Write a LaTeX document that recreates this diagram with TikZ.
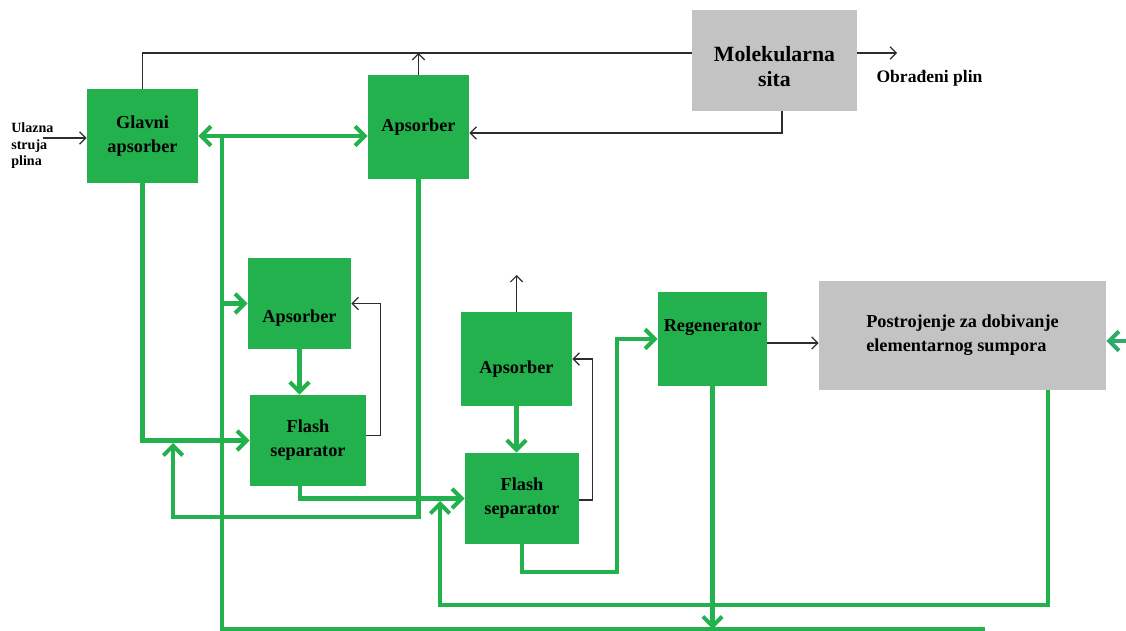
\documentclass[tikz,border=0pt]{standalone}
\usepackage{fontspec}
\setmainfont{Liberation Serif}
\usepackage{xcolor}
\definecolor{pgreen}{RGB}{34,177,76}
\definecolor{pgreen0}{RGB}{46,170,110}
\definecolor{pgrey}{RGB}{195,195,195}
\definecolor{pline}{RGB}{45,45,45}
\usetikzlibrary{calc}
\usetikzlibrary{arrows.meta}
\tikzset{
unit/.style={fill=pgreen, inner sep=0pt, align=center, font=\bfseries\fontsize{10.4}{13.6}\selectfont},
plant/.style={unit, fill=pgrey},
gas/.style={draw=pline, line width=0.7pt},
gasarr/.style={gas, -{Straight Barb[length=3.5pt,width=7pt]}},
liq/.style={draw=pgreen, line width=2.3pt},
liqarr/.style={liq, -{Straight Barb[length=5.5pt,width=11pt]}},
}

\begin{document}
\begin{tikzpicture}[x=0.02cm,y=-0.02cm]
\useasboundingbox (0,0) rectangle (1126,631);
\node[unit, minimum width=2.22cm, minimum height=1.88cm] (gl) at (142.5,136) {Glavni\\apsorber};
\node[unit, minimum width=2.02cm, minimum height=2.08cm] (ap1) at (418.5,127) {Apsorber};
\node[plant, minimum width=3.3cm, minimum height=2.02cm, text height=30pt, font=\bfseries\fontsize{12.4}{14.2}\selectfont] (ms) at (774.5,60.5) {Molekularna\\sita};
\node[unit, minimum width=2.06cm, minimum height=1.82cm, text height=23.8pt] (ap2) at (299.5,303.5) {Apsorber};
\node[unit, minimum width=2.32cm, minimum height=1.82cm] (fs1) at (308,440.5) {Flash\\separator};
\node[unit, minimum width=2.22cm, minimum height=1.88cm, text height=19.2pt] (ap3) at (516.5,359) {Apsorber};
\node[unit, minimum width=2.28cm, minimum height=1.82cm] (fs2) at (522,498.5) {Flash\\separator};
\node[unit, minimum width=2.18cm, minimum height=1.88cm, text depth=15pt] (reg) at (712.5,339) {Regenerator};
\node[plant, minimum width=5.74cm, minimum height=2.18cm, align=left] (ps) at (962.5,335.5) {Postrojenje za dobivanje\\elementarnog sumpora};
\node[anchor=west, align=left, inner sep=0pt, font=\bfseries\fontsize{8}{9.4}\selectfont] (ul) at (11,146) {Ulazna\\struja\\plina};
\node[inner sep=0pt, font=\bfseries\fontsize{10}{12}\selectfont] (op) at (929.5,78) {Obrađeni plin};

% gas side
\coordinate (tl) at (142.5,53);
\coordinate (in) at (43,138);
\coordinate (out) at (897,53);
\coordinate (vent) at (517,275);
\draw[gas] (gl.north) -- (tl) -- (tl -| ms.west);
\draw[gasarr] (ap1.north) -- (ap1.north |- tl);
\draw[gasarr] (in) -- (in -| gl.west);
\draw[gasarr] (out -| ms.east) -- (out);
\draw[gasarr] ($(ms.south)+(7.5,0)$) |- ($(ap1.east)+(0,6)$);
\draw[gasarr] ($(fs1.east)+(0,-5)$) -| ($(ap2.east)+(29,0)$) -- (ap2.east);
\draw[gasarr] ($(fs2.east)+(0,1.5)$) -| ($(ap3.east)+(20,0)$) -- (ap3.east);
\draw[gasarr] (ap3.north) -- (ap3.north |- vent);
\draw[gasarr] ($(reg.east)+(0,4)$) -- ($(ps.west |- reg.east)+(0,4)$);

% solution side
\coordinate (bot) at (222,629);
\coordinate (botr) at (985,629);
\coordinate (r1) at (173,517);
\coordinate (r2) at (440,605);
\coordinate (r3) at (617,572);
\coordinate (rin) at (1126,341);
\draw[liqarr] (gl.south) |- (fs1.west);
\draw[liq, {Straight Barb[length=5.5pt,width=11pt]}-{Straight Barb[length=5.5pt,width=11pt]}] (gl.east) -- (gl.east -| ap1.west);
\draw[liqarr] (reg.south) -- (reg.south |- bot);
\draw[liq] (botr) -- (bot) -- (bot |- gl.east);
\draw[liqarr] (bot |- ap2.west) -- (ap2.west);
\draw[liqarr] (ap1.south) |- (r1) -- ($(r1 |- fs1.west)+(0,2.5)$);
\draw[liqarr] ($(fs1.south)+(-8,0)$) |- (fs2.west);
\draw[liqarr] ($(ps.south)+(85.5,0)$) |- (r2) -- ($(r2 |- fs2.west)+(0,2.5)$);
\draw[liqarr] (ap2.south) -- (ap2.south |- fs1.north);
\draw[liqarr] (ap3.south) -- (ap3.south |- fs2.north);
\draw[liqarr] (fs2.south) |- (r3) |- (reg.west);
%\draw[liq] (ps.east) -- (rin);
\draw[liqarr, draw=pgreen0] (rin) -- (rin -| ps.east);
\end{tikzpicture}
\end{document}
